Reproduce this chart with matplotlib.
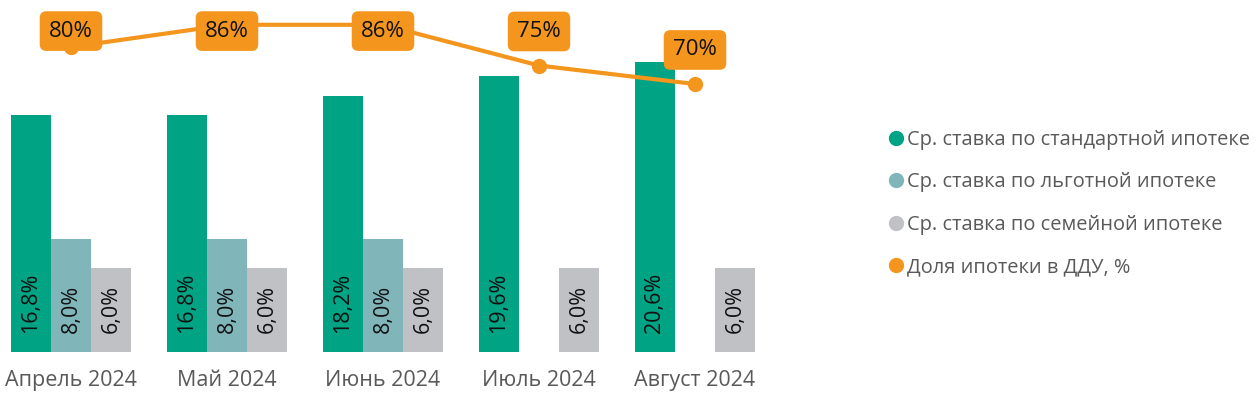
import numpy as np
import matplotlib.pyplot as plt
from matplotlib.lines import Line2D

plt.rcParams['font.family'] = ['Open Sans', 'DejaVu Sans']

# data
months = ['Апрель 2024', 'Май 2024', 'Июнь 2024', 'Июль 2024', 'Август 2024']
standard = [16.8, 16.8, 18.2, 19.6, 20.6]
preferential = [8.0, 8.0, 8.0, None, None]
family = [6.0, 6.0, 6.0, 6.0, 6.0]
share = [80, 86, 86, 75, 70]

names = ['Ср. ставка по стандартной ипотеке', 'Ср. ставка по льготной ипотеке',
         'Ср. ставка по семейной ипотеке', 'Доля ипотеки в ДДУ, %']
colors = ['#00A383', '#80B5BA', '#BFC1C4', '#F4961E']

fig = plt.figure(figsize=(12.6, 3.93), dpi=100)
ax = fig.add_axes([-7 / 1260, 41 / 393, 780 / 1260, 352 / 393])
ax2 = ax.twinx()

x = np.arange(len(months))
w = 40 / 156
for i, (vals, c) in enumerate(zip([standard, preferential, family], colors[:3])):
    for xi, v in zip(x, vals):
        if v is None:
            continue
        xb = xi + (i - 1) * w
        ax.bar(xb, v, width=w, color=c, linewidth=0)
        ax.annotate(f'{v:.1f}%'.replace('.', ','), (xb, 0), xytext=(0, 14),
                    textcoords='offset points', rotation=90, ha='center',
                    va='bottom', fontsize=15.5, color='#111111')

ax.set_xlim(-0.5, 4.5)
ax.set_ylim(0, 25)
ax.set_xticks(x)
ax.set_xticklabels(months, fontsize=15.5, color='#595959')
ax.tick_params(axis='x', length=0, pad=13)
ax.set_yticks([])
for ax_ in (ax, ax2):
    for s in ax_.spines.values():
        s.set_visible(False)

ax2.plot(x, share, color=colors[3], lw=3, marker='o', ms=10, zorder=3)
ax2.set_ylim(-2.4, 92.7)
ax2.set_yticks([])
for xi, v in zip(x, share):
    ly = min(v + 9.2, 84.3)
    ax2.text(xi, ly, f'{v}%', ha='center', va='center', fontsize=16,
             color='#111111', zorder=5,
             bbox=dict(boxstyle='round,pad=0.42,rounding_size=0.3',
                       fc=colors[3], ec='none'))

handles = [Line2D([], [], ls='none', marker='o', ms=10, color=c) for c in colors]
fig.legend(handles, names, loc='upper left', bbox_to_anchor=(877 / 1260, 1 - 122 / 393),
           frameon=False, fontsize=14.4, labelcolor='#595959', handletextpad=0.0,
           labelspacing=1.12, handlelength=1.1, borderaxespad=0)

fig.savefig('out.png', dpi=100)
